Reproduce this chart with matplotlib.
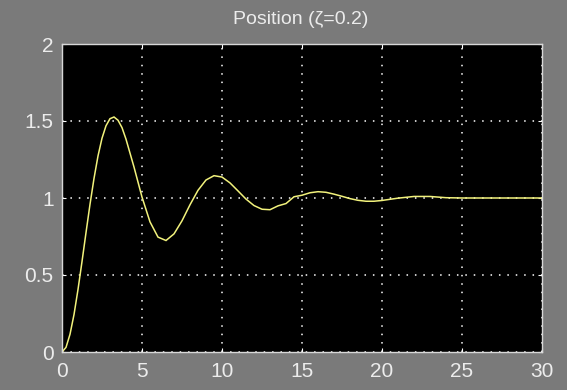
import matplotlib
matplotlib.use("Agg")
import matplotlib.pyplot as plt

# Data (time, position)
time = [0, 0.25, 0.5, 0.75, 1, 1.25, 1.5, 1.75, 2, 2.25, 2.5, 2.75, 3, 3.25, 3.5, 3.75,
        4, 4.5, 5, 5.5, 6, 6.5, 7, 7.5, 8, 8.5, 9, 9.5, 10, 10.5, 11, 11.5, 12, 12.5,
        13, 13.5, 14, 14.5, 15, 15.5, 16, 16.5, 17, 17.5, 18, 18.5, 19, 19.5, 20,
        21, 22, 23, 24, 25, 30]
position = [0, 0.03, 0.115, 0.243, 0.406, 0.587, 0.775, 0.959, 1.127, 1.273, 1.388, 1.469,
            1.515, 1.526, 1.505, 1.457, 1.382, 1.201, 1.006, 0.845, 0.746, 0.724, 0.767,
            0.852, 0.956, 1.050, 1.117, 1.145, 1.136, 1.098, 1.046, 0.993, 0.951, 0.927,
            0.924, 0.949, 0.964, 1.008, 1.018, 1.034, 1.041, 1.037, 1.025, 1.011, 0.996,
            0.985, 0.979, 0.979, 0.984, 0.999, 1.010, 1.010, 1.002, 1.0, 1.0]

x_ticks = [0, 5, 10, 15, 20, 25, 30]
y_ticks = [0, 0.5, 1, 1.5, 2]
y_tick_labels = ["0", "0.5", "1", "1.5", "2"]
title = "Position (\u03b6=0.2)"

BG = "#7a7a7a"
FG = "#ececec"

fig = plt.figure(figsize=(5.67, 3.90), dpi=100, facecolor=BG)
ax = fig.add_axes([62 / 567, 38 / 390, 480 / 567, 308 / 390])
ax.set_facecolor("black")

ax.plot(time, position, color="#f2f27c", lw=1.1, solid_joinstyle="miter")

ax.set_xlim(0, 30)
ax.set_ylim(0, 2)
ax.set_xticks(x_ticks)
ax.set_yticks(y_ticks)
ax.set_yticklabels(y_tick_labels)

font = ["Liberation Sans", "DejaVu Sans"]
for lab in ax.get_xticklabels() + ax.get_yticklabels():
    lab.set_family(font)
    lab.set_fontsize(15)
    lab.set_color(FG)

ax.grid(True, color="white", linestyle=(0, (1, 4.5)), linewidth=1.1)
ax.tick_params(axis="both", direction="in", length=3, width=0.8, color="white",
               top=True, right=True, pad=6)
ax.tick_params(axis="x", pad=7)

for sp in ax.spines.values():
    sp.set_color("#d8d8d8")
    sp.set_linewidth(1.0)

fig.text(301 / 567, 1 - 20 / 390, title, ha="center", va="center", color=FG,
         fontsize=14, family=["Liberation Sans", "DejaVu Sans"])

fig.savefig("out.png", dpi=100, facecolor=BG)
